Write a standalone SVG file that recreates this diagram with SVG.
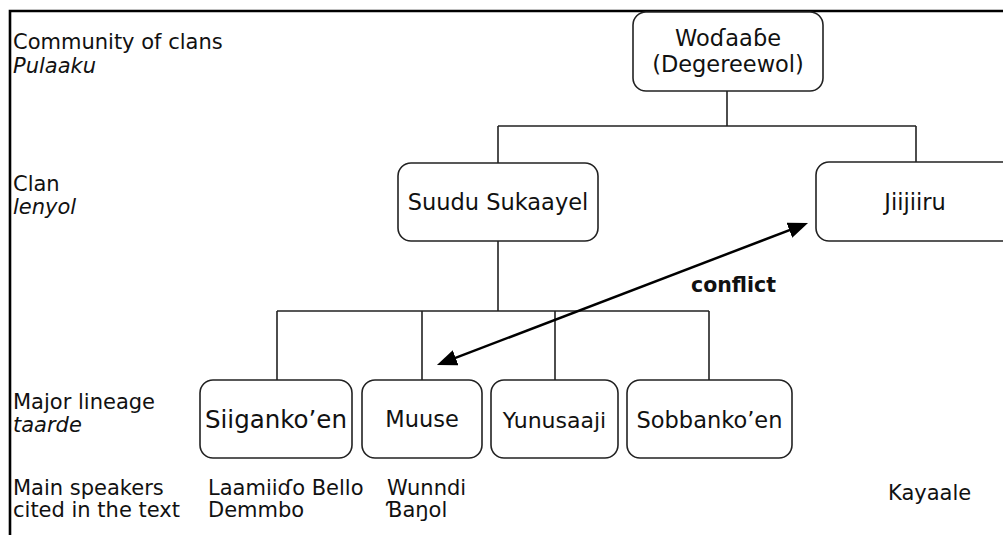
<svg xmlns="http://www.w3.org/2000/svg" width="1003" height="535" viewBox="0 0 1003 535">
<style>
text{font-family:"DejaVu Sans","Liberation Sans",sans-serif;fill:#111}
.lbl{font-size:21px}
.it{font-style:italic}
.box{fill:#fff;stroke:#222;stroke-width:1.6}
.ln{fill:none;stroke:#222;stroke-width:1.6}
.nt{font-size:22.5px;text-anchor:middle}
.frame{fill:none;stroke:#000;stroke-width:2.6}
</style>
<defs>
<marker id="ah" viewBox="0 0 20 16" refX="10" refY="8" markerWidth="20" markerHeight="16" markerUnits="userSpaceOnUse" orient="auto-start-reverse">
<path d="M0,0 L20,8 L0,16 z" fill="#000"/>
</marker>
</defs>
<rect width="1003" height="535" fill="#fff"/>
<path class="frame" d="M10,535 L10,11 L1003,11"/>

<g id="levels">
<text class="lbl" x="13" y="49">Community of clans</text>
<text class="lbl it" x="13" y="73">Pulaaku</text>
<text class="lbl" x="13" y="191">Clan</text>
<text class="lbl it" x="13" y="214">lenyol</text>
<text class="lbl" x="13" y="409">Major lineage</text>
<text class="lbl it" x="13" y="432">taarde</text>
<text class="lbl" x="13" y="495">Main speakers</text>
<text class="lbl" x="13" y="517">cited in the text</text>
</g>

<g id="connectors">
<path class="ln" d="M727,91 V126 M498,126 H916 M498,126 V163 M916,126 V162"/>
<path class="ln" d="M498,241 V311 M277,311 H709 M277,311 V380 M422,311 V380 M555,311 V380 M709,311 V380"/>
<line x1="446.3" y1="361.4" x2="798.7" y2="226.6" stroke="#000" stroke-width="2.5" marker-start="url(#ah)" marker-end="url(#ah)"/>
<text x="691" y="292" style="font-size:20.5px;font-weight:bold">conflict</text>
</g>

<g id="node-wodaabe">
<rect class="box" x="633" y="12" width="190" height="79" rx="13"/>
<text class="nt" x="728" y="46">Woɗaaɓe</text>
<text class="nt" x="728" y="72">(Degereewol)</text>
</g>
<g id="node-suudu">
<rect class="box" x="398" y="163" width="200" height="78" rx="13"/>
<text class="nt" x="498" y="210">Suudu Sukaayel</text>
</g>
<g id="node-jiijiiru">
<rect class="box" x="816" y="162" width="200" height="79" rx="13"/>
<text class="nt" x="915" y="210">Jiijiiru</text>
</g>
<g id="node-siiganko">
<rect class="box" x="200" y="380" width="152" height="78" rx="13"/>
<text class="nt" x="276" y="428" style="font-size:24.5px">Siiganko’en</text>
</g>
<g id="node-muuse">
<rect class="box" x="362" y="380" width="120" height="78" rx="13"/>
<text class="nt" x="422" y="427">Muuse</text>
</g>
<g id="node-yunusaaji">
<rect class="box" x="491" y="380" width="127" height="78" rx="13"/>
<text class="nt" x="554.5" y="428" style="font-size:22px">Yunusaaji</text>
</g>
<g id="node-sobbanko">
<rect class="box" x="627" y="380" width="165" height="78" rx="13"/>
<text class="nt" x="709.5" y="428">Sobbanko’en</text>
</g>

<g id="speakers">
<text class="lbl" x="208" y="495">Laamiiɗo Bello</text>
<text class="lbl" x="208" y="517">Demmbo</text>
<text class="lbl" x="387" y="495">Wunndi</text>
<text class="lbl" x="387" y="517">Ɓaŋol</text>
<text class="lbl" x="888" y="500">Kayaale</text>
</g>
</svg>
